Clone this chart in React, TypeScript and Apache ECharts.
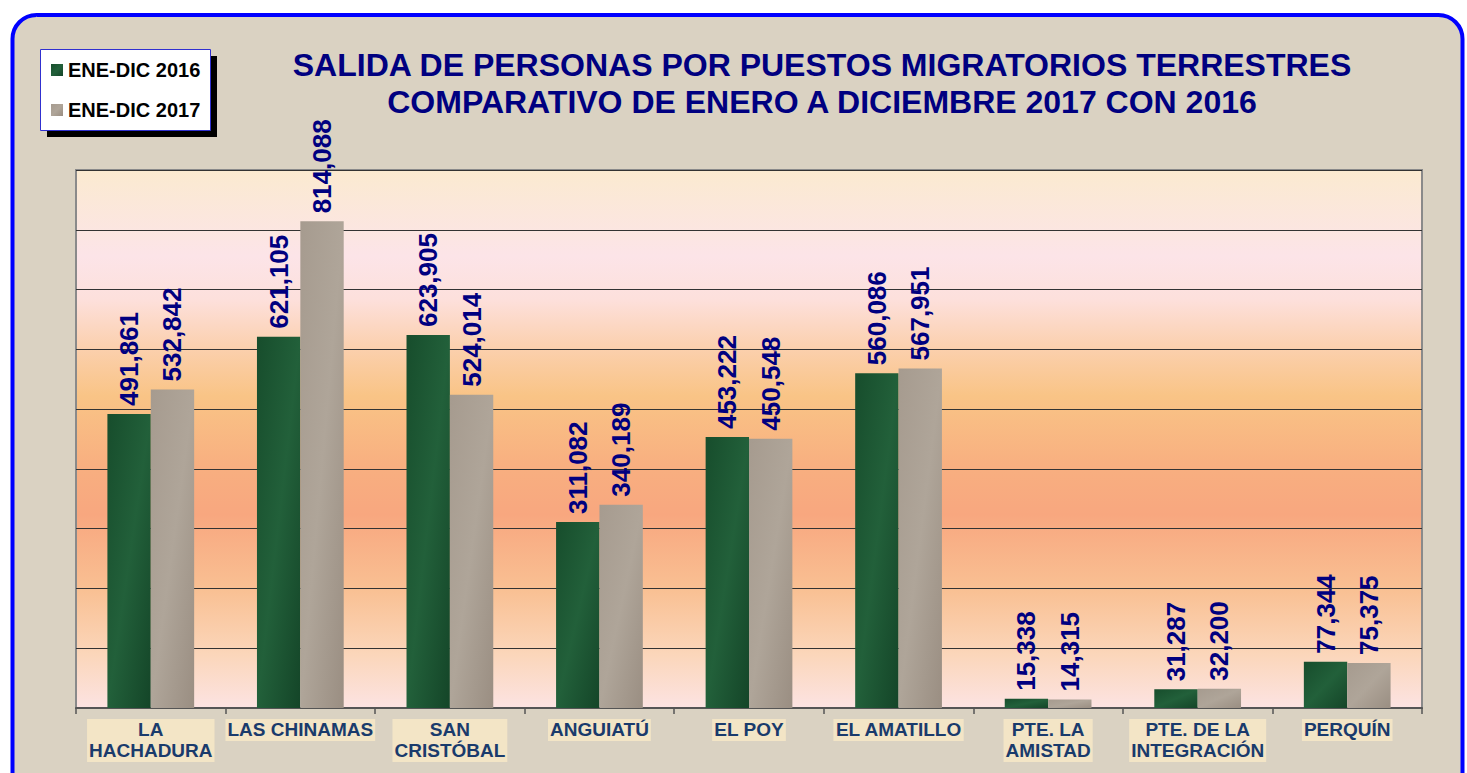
import React, { useEffect, useRef } from "react";
import * as echarts from "echarts";

const categories = [
  "LA\nHACHADURA",
  "LAS CHINAMAS",
  "SAN\nCRISTÓBAL",
  "ANGUIATÚ",
  "EL POY",
  "EL AMATILLO",
  "PTE. LA\nAMISTAD",
  "PTE. DE LA\nINTEGRACIÓN",
  "PERQUÍN",
];
const values2016 = [491861, 621105, 623905, 311082, 453222, 560086, 15338, 31287, 77344];
const values2017 = [532842, 814088, 524014, 340189, 450548, 567951, 14315, 32200, 75375];
const seriesNames = ["ENE-DIC 2016", "ENE-DIC 2017"];
const titleLines = [
  "SALIDA DE PERSONAS POR PUESTOS MIGRATORIOS TERRESTRES",
  "COMPARATIVO DE ENERO A DICIEMBRE 2017 CON 2016",
];

const FONT = "'Liberation Sans', Arial, sans-serif";

export default function App() {
  const ref = useRef<HTMLDivElement>(null);
  useEffect(() => {
    if (!ref.current) return;
    const chart = echarts.init(ref.current, null, { renderer: "svg" });
    const label = {
      show: true,
      position: "top",
      rotate: 90,
      align: "left",
      verticalAlign: "middle",
      distance: 8,
      fontSize: 26,
      fontWeight: "bold",
      fontFamily: FONT,
      color: "#000080",
      formatter: (p: any) => Number(p.value).toLocaleString("en-US"),
    };
    chart.setOption({
      animation: false,
      backgroundColor: "#ffffff",
      graphic: [
        {
          type: "rect",
          z: -10,
          silent: true,
          shape: { x: 12.5, y: 15, width: 1450, height: 820, r: 24 },
          style: { fill: "#DAD2C2", stroke: "#0000FF", lineWidth: 4 },
        },
        {
          type: "rect",
          z: -5,
          silent: true,
          shape: { x: 47, y: 56, width: 170, height: 81 },
          style: { fill: "#000000" },
        },
        {
          type: "rect",
          z: -4,
          silent: true,
          shape: { x: 40.5, y: 49.5, width: 170, height: 81 },
          style: { fill: "#ffffff", stroke: "#3030D0", lineWidth: 1 },
        },
      ],
      title: {
        text: titleLines.join("\n"),
        left: 822,
        top: 46,
        padding: 0,
        textAlign: "center",
        textStyle: {
          fontSize: 32,
          fontWeight: "bold",
          fontFamily: FONT,
          color: "#000080",
          lineHeight: 37,
        },
      },
      legend: {
        left: 40,
        top: 49,
        orient: "vertical",
        padding: [11, 12, 10, 11],
        itemWidth: 12,
        itemHeight: 12,
        itemGap: 20,
        icon: "rect",
        textStyle: {
          fontSize: 20,
          fontWeight: "bold",
          fontFamily: FONT,
          color: "#000000",
          lineHeight: 20,
        },
        data: seriesNames,
      },
      grid: {
        left: 76,
        right: 45,
        top: 170,
        bottom: 65,
        show: true,
        borderColor: "#8A8A8A",
        borderWidth: 2,
        backgroundColor: new echarts.graphic.LinearGradient(0, 0, 0, 1, [
          { offset: 0, color: "#FBEAD0" },
          { offset: 0.16, color: "#FCE4E8" },
          { offset: 0.24, color: "#FDE0DC" },
          { offset: 0.33, color: "#FBD0AE" },
          { offset: 0.42, color: "#F9C486" },
          { offset: 0.55, color: "#F8AF80" },
          { offset: 0.64, color: "#F8A77F" },
          { offset: 0.78, color: "#F9C093" },
          { offset: 0.9, color: "#FBD6BA" },
          { offset: 1, color: "#FCE3E2" },
        ]),
      },
      xAxis: {
        type: "category",
        data: categories,
        axisLine: { lineStyle: { color: "#555555", width: 2 } },
        axisTick: { show: true, length: 6, lineStyle: { color: "#555555", width: 1.5 } },
        axisLabel: {
          interval: 0,
          margin: 11,
          fontSize: 19,
          fontWeight: "bold",
          fontFamily: FONT,
          color: "#1A3B6C",
          lineHeight: 21,
          backgroundColor: "#F3E5C6",
          padding: [0, 2, 1, 2],
          align: "center",
        },
      },
      yAxis: {
        type: "value",
        min: 0,
        max: 900000,
        interval: 100000,
        axisLabel: { show: false },
        axisLine: { show: false },
        axisTick: { show: false },
        splitLine: { show: true, lineStyle: { color: "#333333", width: 1 } },
      },
      series: [
        {
          name: seriesNames[0],
          type: "bar",
          data: values2016,
          barGap: "0%",
          barCategoryGap: "42%",
          itemStyle: {
            color: new echarts.graphic.LinearGradient(0, 0, 1, 1, [
              { offset: 0, color: "#174D2C" },
              { offset: 0.5, color: "#22603A" },
              { offset: 1, color: "#144528" },
            ]),
          },
          label,
        },
        {
          name: seriesNames[1],
          type: "bar",
          data: values2017,
          barGap: "0%",
          barCategoryGap: "42%",
          itemStyle: {
            color: new echarts.graphic.LinearGradient(0, 0, 1, 1, [
              { offset: 0, color: "#A69B8F" },
              { offset: 0.5, color: "#AFA599" },
              { offset: 1, color: "#9A8E82" },
            ]),
          },
          label,
        },
      ],
    });
    return () => chart.dispose();
  }, []);
  return (
    <div
      ref={ref}
      style={{ position: "absolute", left: 0, top: 0, width: 1467, height: 773 }}
    />
  );
}
